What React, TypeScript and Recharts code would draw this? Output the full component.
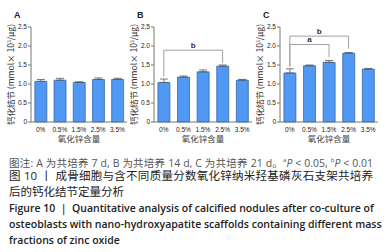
import React from 'react';
import { BarChart, Bar, XAxis, YAxis, ErrorBar, ReferenceLine } from 'recharts';

const categories = ['0%', '0.5%', '1.5%', '2.5%', '3.5%'];
const valuesA = [1.07, 1.1, 1.04, 1.12, 1.12];
const errorsA = [0.05, 0.05, 0.02, 0.04, 0.03];
const valuesB = [1.04, 1.18, 1.32, 1.47, 1.1];
const errorsB = [0.09, 0.03, 0.05, 0.03, 0.02];
const valuesC = [1.29, 1.48, 1.57, 1.81, 1.39];
const errorsC = [0.11, 0.02, 0.05, 0.02, 0.02];
const yTicks = [0, 0.5, 1, 1.5, 2, 2.5];

type Bracket = { from: string; to: string; y: number; leftBottom: number; rightBottom: number; label: string };
const bracketsA: Bracket[] = [];
const bracketsB: Bracket[] = [
  { from: '0%', to: '2.5%', y: 1.89, leftBottom: 1.2, rightBottom: 1.56, label: 'b' },
];
const bracketsC: Bracket[] = [
  { from: '0%', to: '1.5%', y: 2.04, leftBottom: 1.46, rightBottom: 1.7, label: 'a' },
  { from: '0%', to: '2.5%', y: 2.26, leftBottom: 1.46, rightBottom: 1.93, label: 'b' },
];

const BAR_FILL = '#4f98f3';
const BAR_STROKE = '#2b5b9c';
const AXIS = '#777';
const BRACKET = '#a0a0a0';
const FONT = '"Liberation Sans", Arial, sans-serif';
const CJK = '"Noto Sans CJK SC", sans-serif';

const yLabel = (
  <tspan>
    钙化结节 (mmol× 10<tspan dy={-2} fontSize={5}>3</tspan>
    <tspan dy={2}>/μg)</tspan>
  </tspan>
);

function YLabel(props: any) {
  const vb = props.viewBox || {};
  const x = vb.x - 1;
  const y = vb.y + vb.height / 2;
  return (
    <text
      x={x}
      y={y}
      transform={`rotate(-90, ${x}, ${y})`}
      textAnchor="middle"
      dominantBaseline="central"
      fontSize={8.5}
      fill="#333"
      fontFamily={CJK}
    >
      {yLabel}
    </text>
  );
}

function XLabel(props: any) {
  const vb = props.viewBox || {};
  const x = vb.x + vb.width / 2;
  const y = vb.y + 16;
  return (
    <text x={x} y={y} textAnchor="middle" dominantBaseline="central" fontSize={8.5} fill="#444" fontFamily={CJK}>
      氧化锌含量
    </text>
  );
}

function Panel({
  letter,
  left,
  values,
  errors,
  brackets,
}: {
  letter: string;
  left: number;
  values: number[];
  errors: number[];
  brackets: Bracket[];
}) {
  const data = categories.map((c, i) => ({ name: c, value: values[i], err: [0, errors[i]] }));
  const width = left === 0 ? 130 : 132;
  return (
    <div style={{ position: 'absolute', left, top: 0, width, height: 150 }}>
      <div
        style={{
          position: 'absolute',
          left: 14,
          top: 9,
          fontFamily: FONT,
          fontWeight: 'bold',
          fontSize: 9,
          color: '#222',
          lineHeight: '12px',
        }}
      >
        {letter}
      </div>
      <BarChart
        width={width}
        height={150}
        data={data}
        margin={{ top: 27, right: 3, bottom: 6, left: 11 }}
        barCategoryGap="20%"
      >
        <XAxis
          dataKey="name"
          tickLine={false}
          tickSize={0}
          tickMargin={5}
          height={22}
          axisLine={{ stroke: AXIS, strokeWidth: 1 }}
          tick={{ fontSize: 6.5, fill: '#222', fontFamily: FONT }}
          interval={0}
          label={<XLabel />}
        />
        <YAxis
          domain={[0, 2.5]}
          ticks={yTicks}
          width={20}
          tickSize={3}
          tickMargin={1}
          axisLine={{ stroke: AXIS, strokeWidth: 1 }}
          tickLine={{ stroke: AXIS }}
          tick={{ fontSize: 6.5, fill: '#222', fontFamily: FONT }}
          tickFormatter={(v: number) => (v === 0 ? '0' : v.toFixed(1))}
          label={<YLabel />}
        />
        <Bar dataKey="value" fill={BAR_FILL} stroke={BAR_STROKE} strokeWidth={0.7} isAnimationActive={false}>
          <ErrorBar dataKey="err" width={4} stroke="#555" strokeWidth={0.8} />
        </Bar>
        {brackets.map((b, i) => [
          <ReferenceLine
            key={`h${i}`}
            segment={[
              { x: b.from, y: b.y },
              { x: b.to, y: b.y },
            ]}
            stroke={BRACKET}
            strokeWidth={1}
            label={{ value: b.label, position: 'top', offset: 2, fontSize: 8, fill: '#333', fontFamily: FONT, fontWeight: 'bold' }}
          />,
          <ReferenceLine
            key={`l${i}`}
            segment={[
              { x: b.from, y: b.y },
              { x: b.from, y: b.leftBottom },
            ]}
            stroke={BRACKET}
            strokeWidth={1}
          />,
          <ReferenceLine
            key={`r${i}`}
            segment={[
              { x: b.to, y: b.y },
              { x: b.to, y: b.rightBottom },
            ]}
            stroke={BRACKET}
            strokeWidth={1}
          />,
        ])}
      </BarChart>
    </div>
  );
}

const lineBase: React.CSSProperties = {
  position: 'absolute',
  left: 9,
  width: 364,
  height: 16,
  lineHeight: '16px',
  whiteSpace: 'nowrap',
  textAlign: 'justify',
  textAlignLast: 'justify',
};

export default function App() {
  return (
    <div style={{ position: 'absolute', left: 0, top: 0, width: 388, height: 252, background: '#fff', overflow: 'hidden' }}>
      <Panel letter="A" left={0} values={valuesA} errors={errorsA} brackets={bracketsA} />
      <Panel letter="B" left={123} values={valuesB} errors={errorsB} brackets={bracketsB} />
      <Panel letter="C" left={249} values={valuesC} errors={errorsC} brackets={bracketsC} />

      <div style={{ ...lineBase, top: 152, fontSize: 10.5, color: '#555', fontFamily: `"Open Sans", ${CJK}` }}>
        图注: A 为共培养 7 d, B 为共培养 14 d, C 为共培养 21 d。<sup style={{ fontSize: 6 }}>a</sup>
        <i>P</i> &lt; 0.05, <sup style={{ fontSize: 6 }}>b</sup>
        <i>P</i> &lt; 0.01
      </div>
      <div style={{ ...lineBase, top: 168, fontSize: 11.5, color: '#222', fontFamily: `"Open Sans", ${CJK}` }}>
        图 10 丨 成骨细胞与含不同质量分数氧化锌纳米羟基磷灰石支架共培养
      </div>
      <div
        style={{ ...lineBase, top: 184, fontSize: 11.5, color: '#222', fontFamily: `"Open Sans", ${CJK}`, textAlignLast: 'left' }}
      >
        后的钙化结节定量分析
      </div>
      <div style={{ ...lineBase, top: 200, fontSize: 10.5, color: '#222', fontWeight: 600, fontFamily: '"Open Sans", sans-serif' }}>
        Figure 10 &nbsp;|&nbsp; Quantitative analysis of calcified nodules after co-culture of
      </div>
      <div style={{ ...lineBase, top: 216, fontSize: 10.5, color: '#222', fontWeight: 600, fontFamily: '"Open Sans", sans-serif' }}>
        osteoblasts with nano-hydroxyapatite scaffolds containing different mass
      </div>
      <div
        style={{
          ...lineBase,
          top: 232,
          fontSize: 10.5,
          color: '#222',
          fontWeight: 600,
          fontFamily: '"Open Sans", sans-serif',
          textAlignLast: 'left',
        }}
      >
        fractions of zinc oxide
      </div>
    </div>
  );
}
